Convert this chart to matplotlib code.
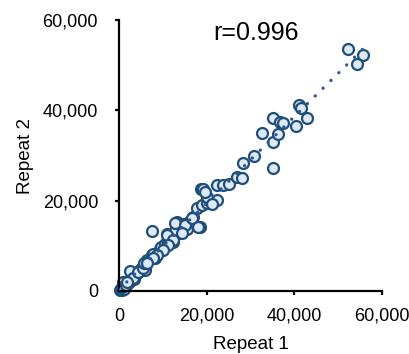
import numpy as np
import matplotlib
matplotlib.use("Agg")
import matplotlib.pyplot as plt
from matplotlib.ticker import FuncFormatter

plt.rcParams['font.family'] = ['Liberation Sans', 'DejaVu Sans']

# repeat 1 / repeat 2 values
rep1 = [300, 500, 700, 900, 1100, 1300, 1500, 1800, 2000, 2200, 2500, 2800,
        3000, 3300, 3600, 4000, 4400, 4800, 5200, 5600, 6000, 2600, 1000, 3500,
        800, 1200, 600, 1700, 3260, 1760, 6000, 4400, 5540,
        6300, 5700, 7450, 7800, 8300, 9350, 9700, 10500, 11250, 11600, 12400,
        10900, 13150, 13900, 14700, 15600, 16950, 17700, 18500, 18850, 20000,
        22400, 18700, 19200, 22300, 23800, 25200, 27000, 28000, 28200, 30800,
        32700, 35200, 35200, 36300, 35200, 36700, 37500, 40400, 42900, 41000,
        41400, 52300, 55700, 54200, 7450, 12800, 16000,
        10870, 12770, 15050, 16570, 18080, 14290, 12380, 11240, 10100, 8590,
        7830, 6310, 20000, 21130, 19610]
rep2 = [200, 400, 600, 800, 900, 1200, 1300, 1600, 1900, 2100, 2300, 2700,
        3000, 3100, 3500, 3800, 4300, 4600, 5100, 5400, 5800, 4500, 2000, 2600,
        300, 500, 900, 1400, 2800, 2060, 4600, 4270, 5020,
        6850, 6100, 8000, 8300, 7200, 9400, 9800, 10400, 10900, 12100, 10900,
        12700, 15300, 12900, 14900, 13800, 16400, 18300, 14200, 19000, 19400,
        20100, 22500, 22500, 23400, 23400, 23800, 25300, 25100, 28400, 30000,
        35000, 27300, 33100, 34800, 38400, 37400, 37300, 36500, 38400, 41300,
        40600, 53600, 52200, 50200, 13200, 13200, 15200,
        12380, 14960, 14590, 16070, 14210, 12750, 11270, 10170, 9060, 7960,
        7230, 6120, 20840, 19380, 21950]
r_text = "r=0.996"

x = np.array(rep1, dtype=float)
y = np.array(rep2, dtype=float)

fig = plt.figure(figsize=(4.1, 3.54), dpi=100)
ax = fig.add_axes([0.290, 0.178, 0.642, 0.765])

# linear trendline, dotted
k, b = np.polyfit(x, y, 1)
xl = np.array([0, x.max()])
ax.plot(xl, k * xl + b, color='#2f5597', lw=2.4, linestyle=(0, (0.01, 3.3)),
        dash_capstyle='round', zorder=3)

ax.scatter(x, y, s=62, facecolor='#dde9f6', edgecolor='#1f4e79',
           linewidths=1.6, zorder=2, clip_on=False)

ax.set_xlim(0, 60000)
ax.set_ylim(0, 60000)
ax.set_xticks([0, 20000, 40000, 60000])
ax.set_yticks([0, 20000, 40000, 60000])
fmt = FuncFormatter(lambda v, p: "{:,.0f}".format(v))
ax.xaxis.set_major_formatter(fmt)
ax.yaxis.set_major_formatter(fmt)

for s in ['top', 'right']:
    ax.spines[s].set_visible(False)
for s in ['left', 'bottom']:
    ax.spines[s].set_linewidth(1.6)
    ax.spines[s].set_color('black')
ax.tick_params(direction='out', length=3, width=1.6, labelsize=13,
               colors='black')
ax.tick_params(axis='y', pad=12)
ax.tick_params(axis='x', pad=9)

ax.set_xlabel("Repeat 1", fontsize=13.5, labelpad=8)
ax.set_ylabel("Repeat 2", fontsize=13.5, labelpad=6)
ax.text(0.52, 0.952, r_text, transform=ax.transAxes, ha='center', va='center',
        fontsize=18)

fig.savefig("out.png", dpi=100)
